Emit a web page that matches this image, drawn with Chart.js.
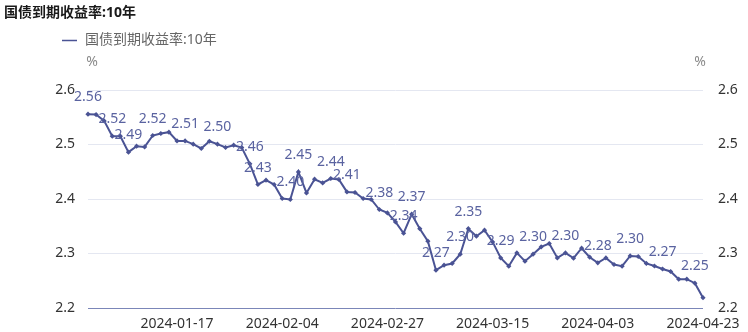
<!DOCTYPE html>
<html>
<head>
<meta charset="utf-8">
<script src="https://cdn.jsdelivr.net/npm/chart.js@4/dist/chart.umd.min.js"></script>
<style>
  html, body { margin: 0; padding: 0; background: #ffffff; }
  #wrap { width: 748px; height: 332px; }
</style>
</head>
<body>
<div id="wrap"><canvas id="c" width="748" height="332"></canvas></div>
<script>
// 10-year government bond yield, trading days 2024-01-02 .. 2024-04-23
const dates = [
  '2024-01-02','2024-01-03','2024-01-04','2024-01-05','2024-01-08','2024-01-09','2024-01-10','2024-01-11','2024-01-12',
  '2024-01-15','2024-01-16','2024-01-17','2024-01-18','2024-01-19','2024-01-22','2024-01-23','2024-01-24','2024-01-25',
  '2024-01-26','2024-01-29','2024-01-30','2024-01-31',
  '2024-02-01','2024-02-02','2024-02-04','2024-02-05','2024-02-06','2024-02-07','2024-02-08','2024-02-09','2024-02-18',
  '2024-02-19','2024-02-20','2024-02-21','2024-02-22','2024-02-23','2024-02-26','2024-02-27','2024-02-28','2024-02-29',
  '2024-03-01','2024-03-04','2024-03-05','2024-03-06','2024-03-07','2024-03-08','2024-03-11','2024-03-12','2024-03-13',
  '2024-03-14','2024-03-15','2024-03-18','2024-03-19','2024-03-20','2024-03-21','2024-03-22','2024-03-25','2024-03-26',
  '2024-03-27','2024-03-28','2024-03-29',
  '2024-04-01','2024-04-02','2024-04-03','2024-04-07','2024-04-08','2024-04-09','2024-04-10','2024-04-11','2024-04-12',
  '2024-04-15','2024-04-16','2024-04-17','2024-04-18','2024-04-19','2024-04-22','2024-04-23'
];

const yields = [
  2.5556, 2.5550, 2.5433, 2.5152, 2.5152, 2.4860, 2.4969, 2.4956, 2.5165,
  2.5202, 2.5226, 2.5066, 2.5066, 2.5006, 2.4927, 2.5060, 2.5006, 2.4945,
  2.4987, 2.4945, 2.4645, 2.4266,
  2.4345, 2.4266, 2.4009, 2.3991, 2.4497, 2.4112, 2.4363, 2.4295, 2.4376,
  2.4358, 2.4130, 2.4119, 2.4009, 2.3991, 2.3807, 2.3745, 2.3580, 2.3372,
  2.3721, 2.3455, 2.3226, 2.2694, 2.2785, 2.2817, 2.2987, 2.3455, 2.3317,
  2.3428, 2.3213, 2.2919, 2.2767, 2.3011, 2.2859, 2.2987, 2.3121, 2.3183,
  2.2919, 2.3011, 2.2914,
  2.3097, 2.2932, 2.2828, 2.2919, 2.2798, 2.2767, 2.2955, 2.2945, 2.2817,
  2.2771, 2.2716, 2.2670, 2.2528, 2.2528, 2.2455, 2.2189
];

// points whose value is printed above the line
const labeledPoints = [0, 3, 5, 8, 12, 16, 20, 21, 25, 26, 30, 32, 36, 39, 40, 43, 46, 47, 51, 55, 59, 63, 67, 71, 75];

// dates shown on the category axis
const tickDates = ['2024-01-17', '2024-02-04', '2024-02-27', '2024-03-15', '2024-04-03', '2024-04-23'];

const yTicks = [2.2, 2.3, 2.4, 2.5, 2.6];

const seriesName = '国债到期收益率:10年';
const titleText = '国债到期收益率:10年';
const unitText = '%';

const FONT = '"Noto Sans", "Noto Sans CJK SC", sans-serif';
const LINE_COLOR = '#4a5394';
const LABEL_COLOR = '#5a63a0';
const GRID_COLOR = '#e4e7f1';
const AXIS_COLOR = '#7b86b8';
const TICK_COLOR = '#333333';

const headerPlugin = {
  id: 'header',
  afterDraw(chart) {
    const c = chart.ctx;
    const area = chart.chartArea;
    c.save();
    // title
    c.fillStyle = '#1a1a1a';
    c.font = 'bold 14px ' + FONT;
    c.textAlign = 'left';
    c.textBaseline = 'middle';
    c.fillText(titleText, 4, 13);
    // legend
    c.strokeStyle = LINE_COLOR;
    c.lineWidth = 1.5;
    c.beginPath();
    c.moveTo(62, 40.5);
    c.lineTo(77, 40.5);
    c.stroke();
    c.fillStyle = '#666666';
    c.font = '14px ' + FONT;
    c.fillText(seriesName, 85, 40);
    // axis units
    c.fillStyle = '#8a8a8a';
    c.textAlign = 'center';
    c.fillText(unitText, area.left + 4, 62);
    c.fillText(unitText, area.right - 3, 62);
    c.restore();
  }
};

const valueLabelPlugin = {
  id: 'valueLabels',
  afterDatasetsDraw(chart) {
    const c = chart.ctx;
    const meta = chart.getDatasetMeta(0);
    c.save();
    c.fillStyle = LABEL_COLOR;
    c.font = '14px ' + FONT;
    c.textAlign = 'center';
    c.textBaseline = 'alphabetic';
    labeledPoints.forEach(i => {
      const pt = meta.data[i];
      c.fillText(yields[i].toFixed(2), pt.x, pt.y - 13);
    });
    c.restore();
  }
};

new Chart(document.getElementById('c'), {
  type: 'line',
  data: {
    labels: dates,
    datasets: [{
      label: seriesName,
      data: yields,
      yAxisID: 'y',
      borderColor: LINE_COLOR,
      borderWidth: 2,
      backgroundColor: LINE_COLOR,
      pointStyle: 'rectRot',
      pointRadius: 2.6,
      pointBorderWidth: 0,
      pointBackgroundColor: LINE_COLOR,
      tension: 0,
      fill: false
    }]
  },
  options: {
    responsive: false,
    animation: false,
    layout: { padding: { top: 90, left: 0, right: 0, bottom: 0 } },
    plugins: {
      legend: { display: false },
      title: { display: false },
      tooltip: { enabled: false }
    },
    scales: {
      x: {
        type: 'category',
        offset: false,
        grid: { display: false, drawTicks: false },
        border: { display: false },
        ticks: {
          autoSkip: false,
          maxRotation: 0,
          minRotation: 0,
          padding: 8,
          color: TICK_COLOR,
          font: { family: FONT, size: 14 },
          callback(v, i) { return tickDates.includes(dates[i]) ? dates[i] : ''; }
        },
        afterFit(s) { s.height = 24; }
      },
      y: {
        position: 'left',
        min: yTicks[0],
        max: yTicks[yTicks.length - 1],
        grid: {
          drawTicks: false,
          color: ctx => (ctx.tick && Math.abs(ctx.tick.value - yTicks[0]) < 1e-9) ? AXIS_COLOR : GRID_COLOR,
          lineWidth: 1
        },
        border: { display: false },
        afterBuildTicks(s) { s.ticks = yTicks.map(v => ({ value: v })); },
        ticks: {
          padding: 13,
          color: TICK_COLOR,
          font: { family: FONT, size: 14 },
          callback: v => Number(v).toFixed(1)
        },
        afterFit(s) { s.width = 88; }
      },
      y2: {
        position: 'right',
        min: yTicks[0],
        max: yTicks[yTicks.length - 1],
        grid: { display: false, drawTicks: false },
        border: { display: false },
        afterBuildTicks(s) { s.ticks = yTicks.map(v => ({ value: v })); },
        ticks: {
          padding: 15,
          color: TICK_COLOR,
          font: { family: FONT, size: 14 },
          callback: v => Number(v).toFixed(1)
        },
        afterFit(s) { s.width = 45; }
      }
    }
  },
  plugins: [headerPlugin, valueLabelPlugin]
});
</script>
</body>
</html>
